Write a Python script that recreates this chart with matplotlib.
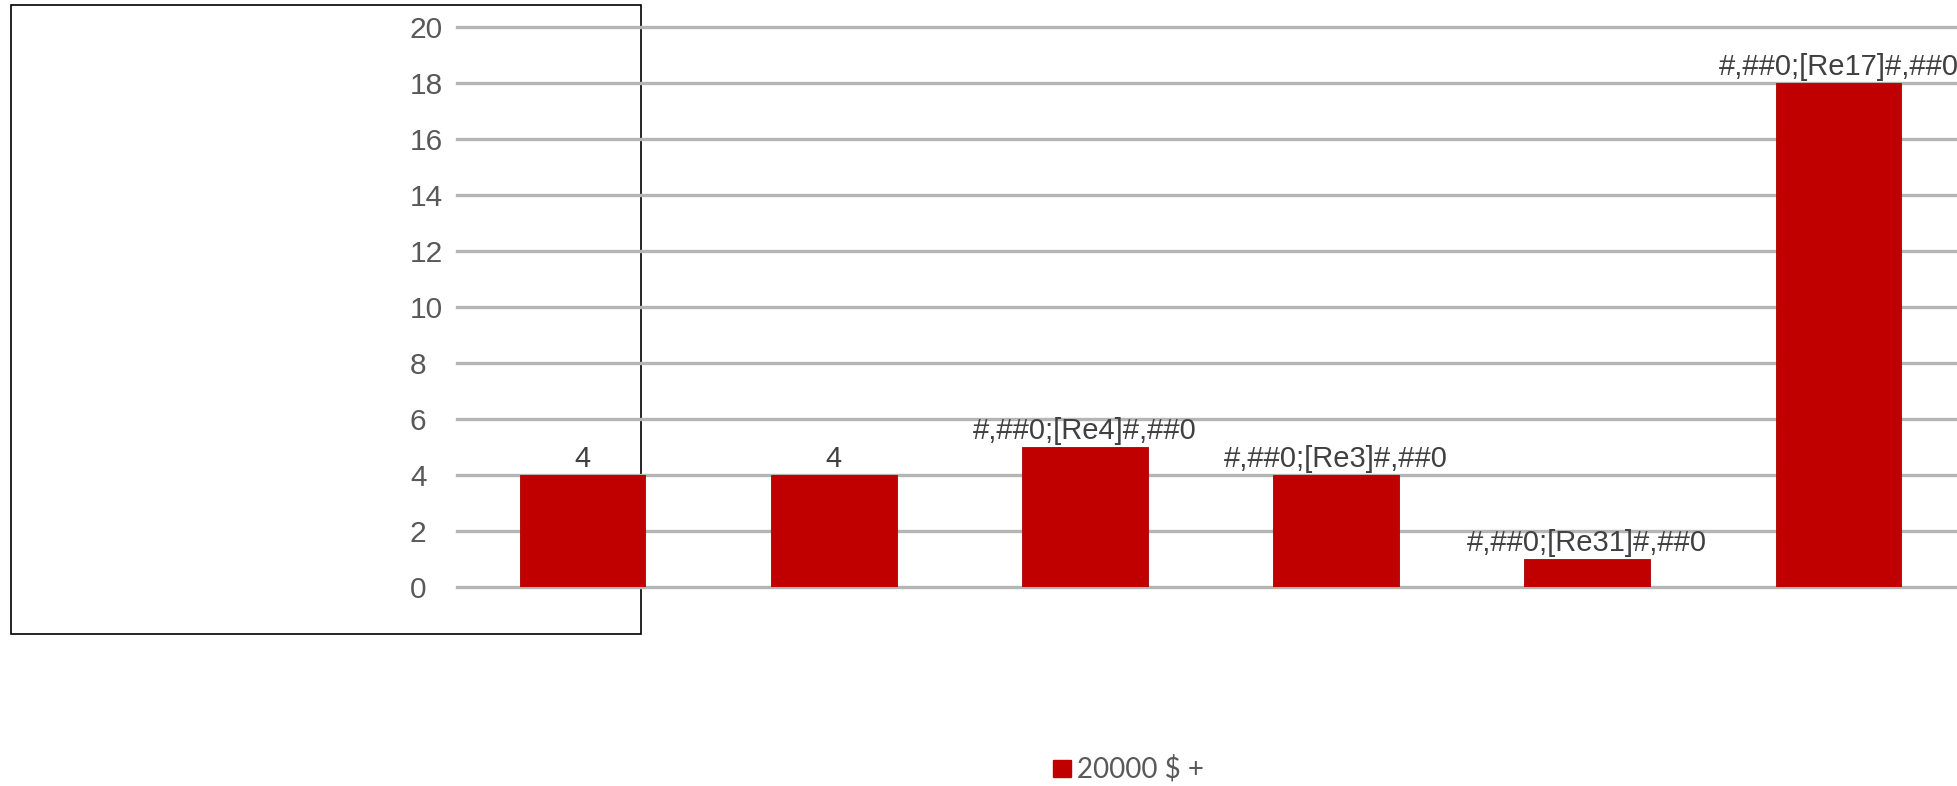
import matplotlib
matplotlib.use("Agg")
import matplotlib.pyplot as plt
from matplotlib.patches import Rectangle
from matplotlib import font_manager

# data
categories = ["A", "B", "C", "D", "E", "F"]
values = [4, 4, 5, 4, 1, 18]
bar_labels = ["4", "4", "#,##0;[Re4]#,##0", "#,##0;[Re3]#,##0",
              "#,##0;[Re31]#,##0", "#,##0;[Re17]#,##0"]
series_name = "20000 $ +"
yticks = list(range(0, 21, 2))

W, H = 1958, 786
fig = plt.figure(figsize=(W / 100, H / 100), dpi=100)

# axes box in pixels: left 457, right ~1964, y0 at 587, y20 at 27
ax = fig.add_axes([457 / W, 1 - 587 / H, (1964 - 457) / W, (587 - 27) / H])
ax.set_facecolor("none")

x = list(range(len(categories)))
ax.bar(x, values, width=0.5, color="#c00000", edgecolor="#a80000",
       linewidth=0.6, zorder=3)
for xi, v, lab in zip(x, values, bar_labels):
    ax.annotate(lab, (xi, v), xytext=(0, 5.5), textcoords="offset points",
                ha="center", va="baseline", fontsize=21, color="#404040",
                family="Liberation Sans", zorder=4, clip_on=False)

ax.set_xlim(-0.5, len(categories) - 0.5)
ax.set_ylim(0, 20)
ax.set_yticks(yticks)
ax.set_xticks([])
ax.yaxis.grid(True, color="#b5b5b5", linewidth=2.4)
for gl in ax.yaxis.get_gridlines():
    gl.set_clip_on(False)
ax.set_axisbelow(True)
# labels start at x~410 px, i.e. 47 px left of the axis
ax.tick_params(axis="y", length=0, pad=47 * 0.72, labelsize=21.5, labelcolor="#595959")
for t in ax.get_yticklabels():
    t.set_family("Liberation Sans")
    t.set_horizontalalignment("left")
for s in ax.spines.values():
    s.set_visible(False)

# the black frame behind the first bar
fig.patches.append(Rectangle((11 / W, 1 - 634 / H), (641 - 11) / W, (634 - 5) / H,
                             transform=fig.transFigure, fill=False,
                             edgecolor="black", linewidth=1.2, zorder=-1))

names = {f.name for f in font_manager.fontManager.ttflist}
legend_font = "Liberation Sans Narrow" if "Liberation Sans Narrow" in names else "Lato"
fig.patches.append(Rectangle((1053 / W, 1 - 777 / H), 18 / W, 17 / H,
                             transform=fig.transFigure, color="#c00000"))
fig.text(1077 / W, 1 - 769 / H, series_name, ha="left", va="center",
         fontsize=20, color="#595959", family=legend_font)

fig.savefig("out.png", dpi=100)
